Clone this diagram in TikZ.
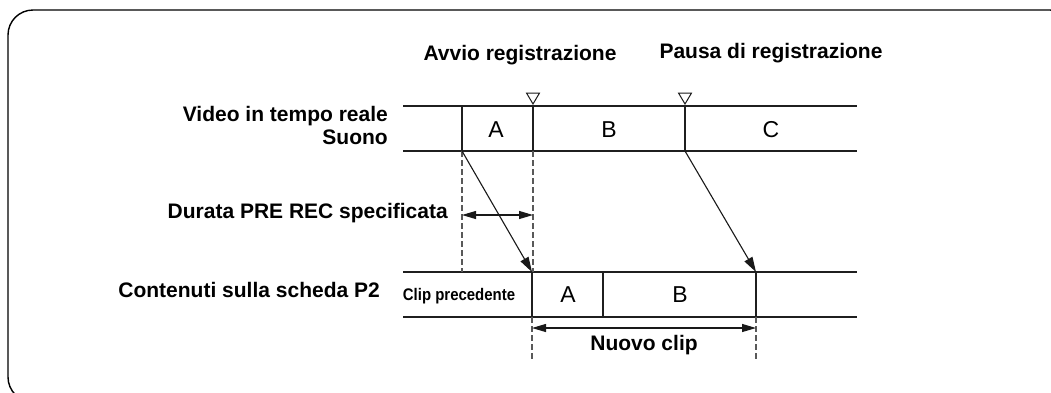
\documentclass[tikz,border=0pt]{standalone}
\usepackage{fontspec}
\setmainfont{Liberation Sans}
\newfontfamily\narrowfont[FakeStretch=0.89]{Liberation Sans}
\usetikzlibrary{arrows.meta}
\tikzset{
  lbl/.style={font=\fontsize{21}{25}\selectfont\bfseries, inner sep=0pt},
  seg/.style={font=\fontsize{23}{27}\selectfont, inner sep=0pt},
  band/.style={line width=2.6pt, draw=black!88},
  divider/.style={line width=2.4pt, draw=black!88},
  guide/.style={line width=1.1pt, draw=black!65, dash pattern=on 6pt off 3pt},
  flow/.style={line width=1.1pt, draw=black!90, -{Triangle[length=15pt,width=9pt]}},
  span/.style={line width=1.1pt, draw=black!90, {Triangle[length=14pt,width=8pt]}-{Triangle[length=14pt,width=8pt]}},
  marker/.style={line width=1pt, draw=black!90}
}
\begin{document}
\begin{tikzpicture}[x=1pt,y=-1pt]
\useasboundingbox (0,0) rectangle (1051,392);
\clip (0,0) rectangle (1051,392);
% frame
\draw[line width=1.4pt, rounded corners=25pt] (8,10) rectangle (1075,402);

% coordinates of top band
\coordinate (t1) at (403,106); \coordinate (t2) at (857,106);
\coordinate (t3) at (403,151); \coordinate (t4) at (857,151);
\coordinate (ta1) at (462,106); \coordinate (ta2) at (462,151);
\coordinate (tb1) at (533,106); \coordinate (tb2) at (533,151);
\coordinate (tc1) at (685,106); \coordinate (tc2) at (685,151);
% bottom band
\coordinate (b1) at (403,272); \coordinate (b2) at (857,272);
\coordinate (b3) at (403,317); \coordinate (b4) at (857,317);
\coordinate (ba1) at (532,272); \coordinate (ba2) at (532,317);
\coordinate (bb1) at (603,272); \coordinate (bb2) at (603,317);
\coordinate (bc1) at (756,272); \coordinate (bc2) at (756,317);
\coordinate (ga) at (462,272);
\coordinate (gb) at (533,272);
\coordinate (na) at (532,360);
\coordinate (nb) at (756,360);
\coordinate (pa) at (462,215); \coordinate (pb) at (533,215);
\coordinate (qa) at (532,328); \coordinate (qb) at (756,328);

% top band
\draw[band] (t1) -- (t2);
\draw[band] (t3) -- (t4);
\draw[divider] (ta1) -- (ta2);
\draw[divider] (tb1) -- (tb2);
\draw[divider] (tc1) -- (tc2);
% markers
\draw[marker] (526.5,93) -- (539.5,93) -- (533,104) -- cycle;
\draw[marker] (678.5,93) -- (691.5,93) -- (685,104) -- cycle;

% bottom band
\draw[band] (b1) -- (b2);
\draw[band] (b3) -- (b4);
\draw[divider] (ba1) -- (ba2);
\draw[divider] (bb1) -- (bb2);
\draw[divider] (bc1) -- (bc2);

% guides
\draw[guide] (ta2) -- (ga);
\draw[guide] (tb2) -- (gb);
\draw[guide] (ba2) -- (na);
\draw[guide] (bc2) -- (nb);

% flows
\draw[flow] (ta2) -- (ba1);
\draw[flow] (tc2) -- (bc1);
\draw[span] (pa) -- (pb);
\draw[span] (qa) -- (qb);

% texts
\node[lbl, anchor=base] (avvio) at (520,60) {Avvio registrazione};
\node[lbl, anchor=base] (pausa) at (771,58) {Pausa di registrazione};
\node[lbl, anchor=base east] (video) at (388,121) {Video in tempo reale};
\node[lbl, anchor=base east] (suono) at (388,144) {Suono};
\node[lbl, anchor=base east] (durata) at (448,218) {Durata PRE REC specificata};
\node[lbl, anchor=base east] (cont) at (380,297) {Contenuti sulla scheda P2};
\node[inner sep=0pt, anchor=base, font=\narrowfont\fontsize{16.8}{20}\selectfont\bfseries] (prec) at (459,300) {Clip precedente};
\node[seg] (sa) at (496,130) {A};
\node[seg] (sb) at (609,130) {B};
\node[seg] (sc) at (771,130) {C};
\node[seg] (sa2) at (568,295) {A};
\node[seg] (sb2) at (680,295) {B};
\node[lbl, anchor=base] (nuovo) at (644,350) {Nuovo clip};
\end{tikzpicture}
\end{document}
